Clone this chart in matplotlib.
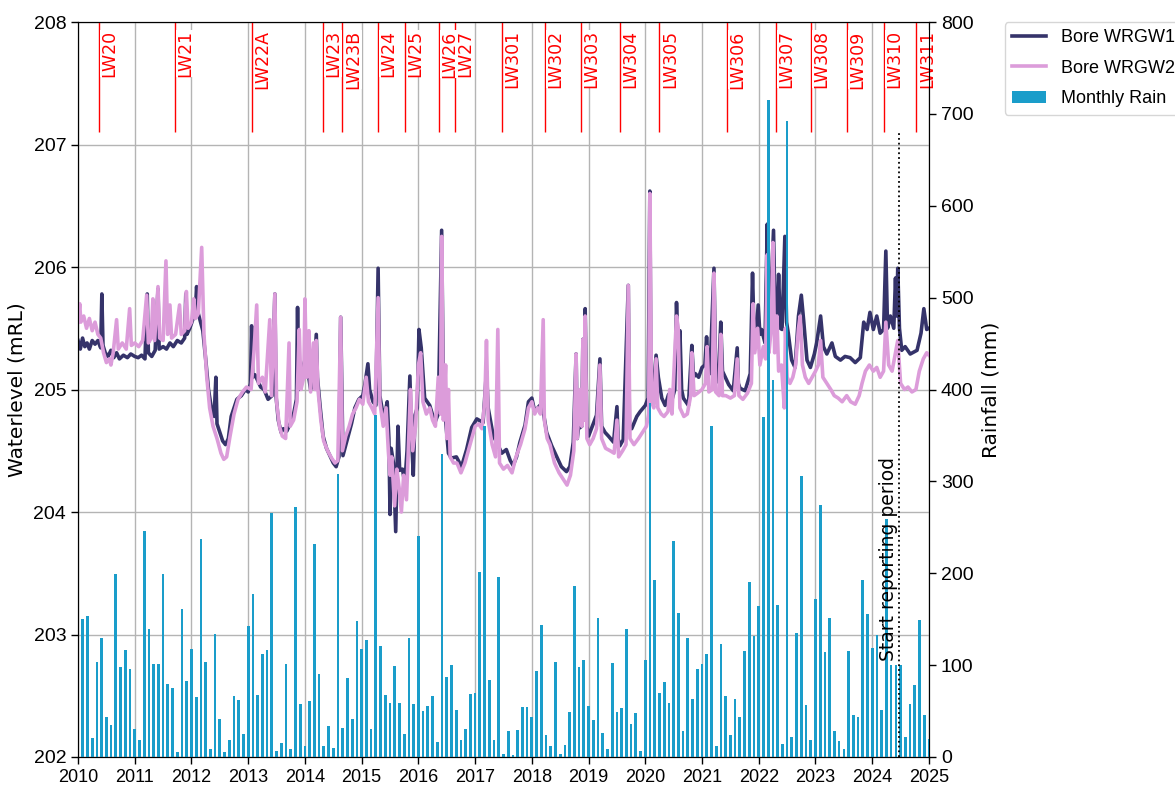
import matplotlib
matplotlib.use("Agg")
import matplotlib.pyplot as plt
from matplotlib.patches import Patch
from matplotlib.lines import Line2D
import numpy as np

# ---------------- data ----------------
years = list(range(2010, 2026))

rain_2010 = [150, 153, 21, 103, 130, 43, 35, 199, 98, 117, 96, 30]
rain_2011 = [19, 246, 139, 101, 101, 199, 80, 75, 5, 161, 83, 118]
rain_2012 = [65, 237, 103, 9, 134, 41, 5, 19, 66, 62, 25, 143]
rain_2013 = [177, 67, 112, 116, 266, 7, 15, 101, 9, 272, 58, 12]
rain_2014 = [61, 232, 90, 12, 34, 10, 308, 32, 86, 41, 148, 118]
rain_2015 = [127, 31, 372, 121, 67, 59, 99, 59, 25, 130, 58, 241]
rain_2016 = [50, 55, 66, 16, 330, 87, 100, 51, 19, 30, 69, 70]
rain_2017 = [201, 360, 84, 19, 196, 3, 28, 2, 29, 54, 54, 43]
rain_2018 = [94, 144, 24, 12, 103, 3, 13, 49, 186, 98, 106, 56]
rain_2019 = [40, 151, 26, 9, 102, 49, 53, 139, 36, 48, 7, 106]
rain_2020 = [385, 193, 70, 82, 59, 235, 157, 28, 130, 63, 96, 101]
rain_2021 = [112, 360, 12, 123, 66, 24, 63, 43, 115, 190, 132, 164]
rain_2022 = [370, 715, 410, 165, 14, 692, 22, 135, 306, 57, 19, 172]
rain_2023 = [274, 114, 151, 28, 17, 9, 115, 46, 43, 193, 156, 119]
rain_2024 = [133, 51, 259, 100, 100, 100, 22, 58, 78, 149, 46, 20]

wrgw1_t = [2010.00, 2010.04, 2010.08, 2010.12, 2010.16, 2010.20, 2010.25, 2010.30, 2010.35, 2010.40,
           2010.42, 2010.44, 2010.48, 2010.53, 2010.58, 2010.63, 2010.68, 2010.73, 2010.80, 2010.87,
           2010.93, 2011.00, 2011.06, 2011.12, 2011.18, 2011.22, 2011.24, 2011.30, 2011.36, 2011.41,
           2011.43, 2011.50, 2011.56, 2011.62, 2011.68, 2011.75, 2011.82, 2011.88, 2011.90, 2011.92,
           2011.97, 2012.03, 2012.07, 2012.09, 2012.12, 2012.16, 2012.20, 2012.25, 2012.30, 2012.35,
           2012.40, 2012.43, 2012.45, 2012.50, 2012.55, 2012.60, 2012.65, 2012.70, 2012.75, 2012.80,
           2012.88, 2012.95, 2013.00, 2013.04, 2013.06, 2013.08, 2013.12, 2013.16, 2013.22, 2013.28,
           2013.35, 2013.42, 2013.47, 2013.49, 2013.53, 2013.58, 2013.62, 2013.68, 2013.74, 2013.80,
           2013.85, 2013.87, 2013.89, 2013.94, 2014.00, 2014.05, 2014.10, 2014.15, 2014.20, 2014.22,
           2014.27, 2014.32, 2014.38, 2014.44, 2014.50, 2014.55, 2014.60, 2014.63, 2014.67, 2014.75,
           2014.82, 2014.88, 2014.95, 2015.02, 2015.06, 2015.11, 2015.14, 2015.20, 2015.25, 2015.29,
           2015.32, 2015.38, 2015.43, 2015.45, 2015.48, 2015.50, 2015.52, 2015.56, 2015.60, 2015.64,
           2015.67, 2015.72, 2015.76, 2015.80, 2015.85, 2015.88, 2015.91, 2015.94, 2015.98, 2016.01,
           2016.05, 2016.11, 2016.20, 2016.29, 2016.35, 2016.41, 2016.44, 2016.47, 2016.53, 2016.58,
           2016.67, 2016.76, 2016.85, 2016.94, 2017.03, 2017.14, 2017.20, 2017.23, 2017.32, 2017.38,
           2017.47, 2017.55, 2017.62, 2017.67, 2017.73, 2017.79, 2017.88, 2017.94, 2018.00, 2018.05,
           2018.14, 2018.20, 2018.26, 2018.35, 2018.44, 2018.52, 2018.61, 2018.67, 2018.73, 2018.78,
           2018.80, 2018.82, 2018.88, 2018.90, 2018.92, 2018.94, 2018.97, 2019.00, 2019.05, 2019.14,
           2019.20, 2019.23, 2019.29, 2019.35, 2019.44, 2019.50, 2019.52, 2019.55, 2019.61, 2019.70,
           2019.72, 2019.76, 2019.85, 2019.91, 2020.00, 2020.05, 2020.08, 2020.10, 2020.14, 2020.19,
           2020.23, 2020.29, 2020.35, 2020.41, 2020.46, 2020.52, 2020.55, 2020.58, 2020.61, 2020.64,
           2020.67, 2020.76, 2020.82, 2020.85, 2020.88, 2020.94, 2021.00, 2021.05, 2021.08, 2021.11,
           2021.14, 2021.21, 2021.24, 2021.29, 2021.33, 2021.36, 2021.38, 2021.47, 2021.55, 2021.62,
           2021.64, 2021.67, 2021.76, 2021.85, 2021.89, 2021.92, 2021.94, 2021.99, 2022.02, 2022.05,
           2022.11, 2022.15, 2022.18, 2022.20, 2022.26, 2022.29, 2022.32, 2022.35, 2022.38, 2022.41,
           2022.46, 2022.49, 2022.52, 2022.58, 2022.64, 2022.70, 2022.75, 2022.79, 2022.85, 2022.91,
           2022.98, 2023.02, 2023.09, 2023.14, 2023.20, 2023.29, 2023.35, 2023.44, 2023.52, 2023.61,
           2023.70, 2023.79, 2023.85, 2023.91, 2023.96, 2024.02, 2024.08, 2024.14, 2024.20, 2024.24,
           2024.27, 2024.32, 2024.38, 2024.41, 2024.43, 2024.45, 2024.48, 2024.52, 2024.58, 2024.67,
           2024.79, 2024.86, 2024.91, 2024.96, 2025.00]
wrgw1_v = [205.40, 205.33, 205.42, 205.35, 205.38, 205.33, 205.40, 205.37, 205.40, 205.34,
           205.78, 205.36, 205.30, 205.27, 205.32, 205.26, 205.30, 205.25, 205.28, 205.26,
           205.29, 205.27, 205.26, 205.28, 205.25, 205.78, 205.30, 205.27, 205.32, 205.82,
           205.33, 205.35, 205.33, 205.38, 205.35, 205.40, 205.38, 205.42, 205.78, 205.45,
           205.50, 205.58, 205.65, 205.84, 205.62, 205.55, 205.48, 205.25, 205.00, 204.85,
           204.78, 205.10, 204.72, 204.65, 204.58, 204.55, 204.60, 204.78, 204.85, 204.92,
           204.95, 205.00, 204.98, 205.05, 205.52, 205.10, 205.12, 205.08, 205.02, 205.00,
           204.92, 204.95, 205.78, 204.95, 204.75, 204.65, 204.68, 204.66, 204.72, 204.80,
           204.92, 205.67, 205.00, 205.15, 205.24, 205.15, 205.00, 205.05, 205.45, 205.10,
           204.85, 204.62, 204.52, 204.46, 204.40, 204.37, 204.45, 205.59, 204.46, 204.60,
           204.72, 204.85, 204.92, 204.95, 205.05, 205.21, 205.00, 204.90, 204.87, 205.99,
           204.95, 204.79, 204.85, 204.90, 204.60, 203.98, 204.52, 204.40, 203.84, 204.70,
           204.34, 204.35, 204.23, 204.50, 205.11, 204.60, 204.30, 204.79, 204.85, 205.49,
           205.34, 204.93, 204.87, 204.73, 204.80, 206.30, 204.99, 204.80, 204.48, 204.44,
           204.45, 204.37, 204.51, 204.69, 204.76, 204.73, 205.15, 204.85, 204.62, 204.57,
           204.48, 204.51, 204.42, 204.38, 204.45, 204.57, 204.71, 204.90, 204.93, 204.82,
           204.87, 204.82, 204.65, 204.54, 204.45, 204.37, 204.33, 204.37, 204.57, 205.29,
           204.60, 204.68, 204.70, 205.41, 204.75, 205.66, 204.70, 204.62, 204.68, 204.79,
           205.25, 204.70, 204.65, 204.62, 204.57, 204.86, 204.60, 204.54, 204.59, 205.85,
           204.70, 204.68, 204.78, 204.82, 204.87, 204.93, 206.62, 205.05, 204.99, 205.28,
           205.10, 204.93, 204.87, 204.96, 204.90, 205.00, 205.71, 205.30, 205.48, 205.00,
           204.93, 204.87, 205.36, 205.10, 205.13, 205.10, 205.18, 205.20, 205.43, 205.20,
           205.13, 205.99, 205.15, 205.06, 205.55, 205.15, 205.13, 205.04, 204.99, 205.34,
           205.05, 205.01, 204.99, 205.13, 205.95, 205.40, 205.35, 205.69, 205.45, 205.49,
           205.38, 206.35, 205.70, 205.60, 206.30, 205.55, 205.52, 205.94, 205.50, 205.49,
           206.25, 205.55, 205.46, 205.24, 205.18, 205.60, 205.77, 205.57, 205.24, 205.18,
           205.29, 205.38, 205.60, 205.35, 205.29, 205.38, 205.27, 205.24, 205.27, 205.26,
           205.22, 205.26, 205.55, 205.49, 205.63, 205.49, 205.60, 205.46, 205.49, 206.13,
           205.50, 205.60, 205.50, 205.91, 205.60, 205.99, 205.50, 205.32, 205.35, 205.29,
           205.32, 205.46, 205.66, 205.49, 205.50]

wrgw2_t = [2010.00, 2010.03, 2010.05, 2010.10, 2010.15, 2010.20, 2010.25, 2010.30, 2010.35, 2010.40,
           2010.45, 2010.50, 2010.55, 2010.58, 2010.62, 2010.68, 2010.71, 2010.78, 2010.85, 2010.91,
           2010.94, 2011.00, 2011.07, 2011.14, 2011.21, 2011.24, 2011.29, 2011.32, 2011.35, 2011.41,
           2011.44, 2011.50, 2011.55, 2011.58, 2011.62, 2011.65, 2011.72, 2011.79, 2011.82, 2011.88,
           2011.91, 2011.94, 2012.00, 2012.04, 2012.07, 2012.12, 2012.18, 2012.22, 2012.27, 2012.32,
           2012.38, 2012.45, 2012.52, 2012.57, 2012.62, 2012.68, 2012.75, 2012.82, 2012.90, 2012.97,
           2013.05, 2013.10, 2013.15, 2013.18, 2013.25, 2013.30, 2013.38, 2013.41, 2013.47, 2013.50,
           2013.55, 2013.60, 2013.66, 2013.72, 2013.74, 2013.80, 2013.86, 2013.90, 2013.93, 2013.98,
           2014.00, 2014.03, 2014.07, 2014.10, 2014.15, 2014.18, 2014.20, 2014.23, 2014.28, 2014.33,
           2014.40, 2014.47, 2014.53, 2014.58, 2014.63, 2014.66, 2014.72, 2014.78, 2014.84, 2014.90,
           2014.96, 2015.02, 2015.08, 2015.12, 2015.18, 2015.23, 2015.29, 2015.32, 2015.38, 2015.43,
           2015.47, 2015.50, 2015.53, 2015.58, 2015.62, 2015.66, 2015.70, 2015.74, 2015.79, 2015.83,
           2015.86, 2015.90, 2015.95, 2016.00, 2016.04, 2016.08, 2016.14, 2016.20, 2016.25, 2016.30,
           2016.35, 2016.39, 2016.41, 2016.44, 2016.48, 2016.50, 2016.53, 2016.56, 2016.62, 2016.68,
           2016.75, 2016.82, 2016.88, 2016.94, 2017.00, 2017.06, 2017.12, 2017.17, 2017.20, 2017.23,
           2017.30, 2017.36, 2017.40, 2017.43, 2017.50, 2017.57, 2017.65, 2017.72, 2017.80, 2017.88,
           2017.94, 2018.00, 2018.05, 2018.10, 2018.15, 2018.20, 2018.22, 2018.27, 2018.32, 2018.40,
           2018.48, 2018.55, 2018.62, 2018.68, 2018.74, 2018.78, 2018.80, 2018.85, 2018.88, 2018.90,
           2018.92, 2018.94, 2018.97, 2019.02, 2019.08, 2019.14, 2019.20, 2019.23, 2019.30, 2019.38,
           2019.45, 2019.50, 2019.53, 2019.60, 2019.66, 2019.70, 2019.73, 2019.80, 2019.88, 2019.95,
           2020.02, 2020.06, 2020.08, 2020.11, 2020.15, 2020.19, 2020.22, 2020.28, 2020.33, 2020.40,
           2020.43, 2020.47, 2020.55, 2020.58, 2020.61, 2020.68, 2020.74, 2020.80, 2020.82, 2020.86,
           2020.92, 2021.00, 2021.06, 2021.09, 2021.12, 2021.18, 2021.21, 2021.24, 2021.30, 2021.33,
           2021.36, 2021.42, 2021.50, 2021.57, 2021.62, 2021.65, 2021.72, 2021.80, 2021.87, 2021.90,
           2021.93, 2021.98, 2022.02, 2022.08, 2022.12, 2022.15, 2022.18, 2022.22, 2022.25, 2022.28,
           2022.32, 2022.35, 2022.40, 2022.45, 2022.47, 2022.50, 2022.55, 2022.60, 2022.65, 2022.70,
           2022.73, 2022.77, 2022.82, 2022.88, 2022.94, 2023.00, 2023.05, 2023.09, 2023.13, 2023.20,
           2023.27, 2023.33, 2023.40, 2023.47, 2023.55, 2023.62, 2023.70, 2023.77, 2023.82, 2023.88,
           2023.95, 2024.02, 2024.08, 2024.14, 2024.20, 2024.24, 2024.29, 2024.35, 2024.41, 2024.45,
           2024.50, 2024.57, 2024.63, 2024.70, 2024.77, 2024.83, 2024.90, 2024.96, 2025.00]
wrgw2_v = [205.55, 205.70, 205.55, 205.60, 205.50, 205.58, 205.48, 205.55, 205.45, 205.42,
           205.30, 205.22, 205.25, 205.20, 205.30, 205.57, 205.33, 205.38, 205.33, 205.66,
           205.36, 205.38, 205.35, 205.40, 205.77, 205.38, 205.42, 205.74, 205.40, 205.84,
           205.42, 205.40, 206.05, 205.45, 205.69, 205.42, 205.45, 205.69, 205.45, 205.48,
           205.80, 205.50, 205.55, 205.74, 205.58, 205.62, 206.16, 205.45, 205.10, 204.85,
           204.70, 204.60, 204.48, 204.43, 204.45, 204.62, 204.80, 204.92, 204.98, 205.02,
           205.00, 205.30, 205.69, 205.05, 205.10, 204.98, 205.57, 204.95, 205.78, 204.90,
           204.70, 204.62, 204.60, 205.38, 204.70, 204.75, 204.90, 205.49, 205.00, 205.10,
           205.74, 205.10, 205.48, 204.98, 205.38, 205.00, 205.40, 205.00, 204.75, 204.58,
           204.50, 204.44, 204.40, 204.42, 205.59, 204.50, 204.62, 204.70, 204.80, 204.85,
           204.92, 204.88, 205.10, 204.90, 204.85, 204.80, 205.75, 204.90, 204.70, 204.85,
           204.50, 204.30, 204.45, 204.05, 204.35, 204.20, 204.00, 204.30, 204.10, 204.60,
           205.00, 204.50, 204.70, 205.20, 205.30, 204.90, 204.80, 204.85, 204.75, 204.70,
           205.10, 204.80, 206.25, 204.75, 205.20, 204.60, 205.00, 204.45, 204.40, 204.40,
           204.32, 204.40, 204.50, 204.60, 204.70, 204.72, 204.68, 204.90, 205.40, 204.75,
           204.55, 204.45, 205.49, 204.40, 204.35, 204.38, 204.32, 204.45, 204.55, 204.68,
           204.85, 204.90, 204.80, 204.85, 204.80, 205.57, 204.75, 204.60, 204.55, 204.40,
           204.32, 204.27, 204.22, 204.30, 204.50, 205.29, 204.60, 205.00, 204.70, 205.41,
           204.75, 205.60, 204.60, 204.55, 204.60, 204.68, 205.20, 204.60, 204.52, 204.50,
           204.48, 204.75, 204.45, 204.50, 204.55, 205.85, 204.60, 204.55, 204.60, 204.65,
           204.70, 204.80, 206.60, 204.90, 204.85, 205.25, 204.85, 204.80, 204.78, 204.82,
           205.00, 204.80, 205.60, 205.50, 204.85, 204.78, 204.80, 204.95, 205.30, 204.95,
           204.97, 205.00, 205.05, 205.35, 204.98, 205.00, 205.95, 204.98, 204.95, 205.45,
           204.95, 204.95, 204.93, 204.95, 205.25, 204.95, 204.92, 204.97, 205.05, 205.70,
           205.30, 205.50, 205.20, 205.35, 205.25, 206.10, 205.30, 205.50, 206.20, 205.30,
           205.60, 205.15, 205.20, 204.85, 205.50, 205.10, 205.05, 205.10, 205.20, 205.50,
           205.60, 205.20, 205.10, 205.05, 205.10, 205.15, 205.20, 205.40, 205.10, 205.05,
           205.00, 204.95, 204.93, 204.90, 204.95, 204.90, 204.88, 204.95, 205.05, 205.15,
           205.20, 205.15, 205.18, 205.10, 205.15, 205.55, 205.20, 205.15, 205.30, 205.40,
           205.05, 205.00, 205.02, 204.98, 205.00, 205.15, 205.25, 205.30, 205.28]

lw_labels = ["LW20", "LW21", "LW22A", "LW23", "LW23B", "LW24", "LW25", "LW26", "LW27",
             "LW301", "LW302", "LW303", "LW304", "LW305", "LW306", "LW307", "LW308",
             "LW309", "LW310", "LW311"]
lw_dates = [2010.37, 2011.71, 2013.07, 2014.32, 2014.66, 2015.28, 2015.77, 2016.36, 2016.64,
            2017.48, 2018.23, 2018.87, 2019.56, 2020.25, 2021.44, 2022.30, 2022.92,
            2023.55, 2024.20, 2024.78]
start_reporting = 2024.47

# ---------------- styling ----------------
navy = "#35336a"
pink = "#dc9cda"
rain_col = "#1a9dca"
tickfont = "Liberation Sans"

monthly_rain = (rain_2010 + rain_2011 + rain_2012 + rain_2013 + rain_2014 + rain_2015 +
                rain_2016 + rain_2017 + rain_2018 + rain_2019 + rain_2020 + rain_2021 +
                rain_2022 + rain_2023 + rain_2024)
month_pos = [2010 + (i + 1) / 12.0 for i in range(len(monthly_rain))]

fig = plt.figure(figsize=(11.75, 7.95), dpi=100)
ax1 = fig.add_axes([0.0664, 0.0478, 0.7242, 0.9245])

ax1.grid(True, color="#b4b4b4", linewidth=1.0, zorder=0)
ax1.set_axisbelow(True)
ax1.plot(wrgw1_t, wrgw1_v, color=navy, linewidth=2.6, zorder=3)
ax1.plot(wrgw2_t, wrgw2_v, color=pink, linewidth=2.6, zorder=4)

ax1.set_xlim(2010, 2025)
ax1.set_ylim(202, 208)
ax1.set_xticks(years)
ax1.set_xticklabels([str(y) for y in years], family=tickfont, fontsize=13)
ax1.set_yticks(range(202, 209))
ax1.set_yticklabels([str(v) for v in range(202, 209)], family=tickfont, fontsize=14)
ax1.tick_params(axis="both", direction="out", length=5, width=1)
ax1.set_ylabel("Waterlevel (mRL)", fontsize=14.5, labelpad=5)

# LW markers
ax1.vlines(lw_dates, 207.1, 208, colors="red", linewidth=1.0, zorder=5)
for d, lab in zip(lw_dates, lw_labels):
    ax1.annotate(lab, xy=(d, 208), xytext=(1.0, -6), textcoords="offset points",
                 rotation=90, ha="left", va="top", color="red", fontsize=12.5,
                 bbox=dict(facecolor="white", edgecolor="none", pad=0.0), zorder=6)

ax2 = ax1.twinx()
ax2.bar(month_pos, monthly_rain, width=0.048, color=rain_col, zorder=2)
ax2.set_ylim(0, 800)
ax2.set_yticks(range(0, 801, 100))
ax2.set_yticklabels([str(v) for v in range(0, 801, 100)], family=tickfont, fontsize=14)
ax2.tick_params(axis="y", direction="out", length=5, width=1)
ax2.set_ylabel("Rainfall (mm)", fontsize=14.5, labelpad=6)

ax2.vlines(start_reporting, 0, 680, colors="black", linestyles=":", linewidth=1.3, zorder=5)
ax2.text(start_reporting - 0.02, 104, "Start reporting period", rotation=90,
         ha="right", va="bottom", fontsize=13.5, color="black", zorder=6)

handles = [Line2D([0], [0], color=navy, linewidth=2.6),
           Line2D([0], [0], color=pink, linewidth=2.6),
           Patch(facecolor=rain_col)]
leg = ax2.legend(handles, ["Bore WRGW1", "Bore WRGW2", "Monthly Rain"],
                 loc="upper left", bbox_to_anchor=(1.089, 1.0),
                 prop={"family": tickfont, "size": 13}, frameon=True,
                 handlelength=1.9, borderaxespad=0, labelspacing=0.75)
leg.get_frame().set_edgecolor("#cccccc")

fig.savefig("out.png", dpi=100)
